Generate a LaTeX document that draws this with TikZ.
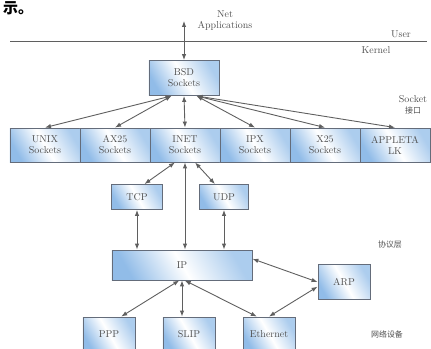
\documentclass[tikz,border=0pt]{standalone}
\usepackage{fontspec}
\usetikzlibrary{arrows.meta}
\newfontfamily\cjk{Noto Sans CJK SC}
\definecolor{boxblue}{RGB}{145,188,232}
\definecolor{boxedge}{RGB}{100,108,122}
\definecolor{arrowgray}{RGB}{95,95,95}
\definecolor{textgray}{RGB}{80,80,80}
\begin{document}
\begin{tikzpicture}[x = 1bp, y = -1bp, >= {Latex[length = 6pt, width = 4.5pt]},
        every node/.style = {font = \fontsize{10}{11}\selectfont, text = textgray, align = center},
        box/.style = {draw = boxedge, line width = .9pt, inner sep = 0pt,
            left color = boxblue, right color = boxblue!75, middle color = white, shading angle = 120},
        link/.style = {<->, draw = arrowgray, line width = .9pt}]
            \useasboundingbox (0,0) rectangle (431,349);

            % Draw the page scrap and the user/kernel line:
            \node [font = \cjk\fontsize{15}{15}\selectfont\bfseries, text = black, anchor = north west, inner sep = 0pt] (Scrap) at (3,1) {示。};
            \draw [draw = arrowgray, line width = .8pt] (10,41) -- (427,41);
            \node [] (User) at (401,34) {User};
            \node [] (Kernel) at (376,50) {Kernel};
            \node [] (NetApp) at (225,21) {Net\\Applications};
            \coordinate (NetTop) at (184,21);

            % Draw the socket layer:
            \node [box, minimum width = 70bp, minimum height = 35bp] (BSD) at (184,78) {BSD\\Sockets};
            \node [box, minimum width = 70bp, minimum height = 34bp] (UNIX) at (45,145) {UNIX\\Sockets};
            \node [box, minimum width = 70bp, minimum height = 34bp] (AX25) at (115,145) {AX25\\Sockets};
            \node [box, minimum width = 70bp, minimum height = 34bp] (INET) at (185,145) {INET\\Sockets};
            \node [box, minimum width = 70bp, minimum height = 34bp] (IPX) at (255,145) {IPX\\Sockets};
            \node [box, minimum width = 70bp, minimum height = 34bp] (X25) at (325,145) {X25\\Sockets};
            \node [box, minimum width = 70bp, minimum height = 34bp] (APPLETALK) at (395,145) {APPLETA\\LK};
            \node [] (SockLabel) at (413,105) {Socket\\{\cjk\fontsize{8}{9}\selectfont 接口}};

            % Draw the protocol layer:
            \node [box, minimum width = 51bp, minimum height = 25bp] (TCP) at (137,197) {TCP};
            \node [box, minimum width = 49bp, minimum height = 25bp] (UDP) at (224,197) {UDP};
            \node [box, minimum width = 140bp, minimum height = 30bp] (IP) at (182,265) {IP};
            \node [box, minimum width = 52bp, minimum height = 35bp] (ARP) at (344,282) {ARP};
            \node [font = \cjk\fontsize{8}{9}\selectfont] (ProtoLabel) at (390,245) {协议层};

            % Draw the network devices:
            \node [box, minimum width = 52bp, minimum height = 34bp] (PPP) at (109,334) {PPP};
            \node [box, minimum width = 52bp, minimum height = 34bp] (SLIP) at (189,334) {SLIP};
            \node [box, minimum width = 52bp, minimum height = 34bp] (Ethernet) at (269,334) {Ethernet};
            \node [font = \cjk\fontsize{8}{9}\selectfont] (DevLabel) at (387,334) {网络设备};

            % Draw the links:
            \draw [link] (NetTop) -- (BSD.north);
            \foreach \sock in {UNIX, AX25}
                \draw [link] (BSD.-125) -- (\sock.north);
            \foreach \sock in {IPX, X25, APPLETALK}
                \draw [link] (BSD.-55) -- (\sock.north);
            \draw [link] (BSD.south) -- (INET.north);
            \draw [link] (INET.-120) -- (TCP.60);
            \draw [link] (INET.-60) -- (UDP.125);
            \draw [link] (INET.south) -- (INET.south |- IP.north);
            \draw [link] (TCP.south) -- (TCP.south |- IP.north);
            \draw [link] (UDP.south) -- (UDP.south |- IP.north);
            \draw [link] (IP.5) -- (ARP.west);
            \draw [link] (Ethernet.north) -- (ARP.-170);
            \draw [link] (IP.-100) -- (PPP.55);
            \draw [link] (IP.south) -- (IP.south |- SLIP.north);
            \draw [link] (IP.-80) -- (Ethernet.125);
        \end{tikzpicture}
\end{document}
